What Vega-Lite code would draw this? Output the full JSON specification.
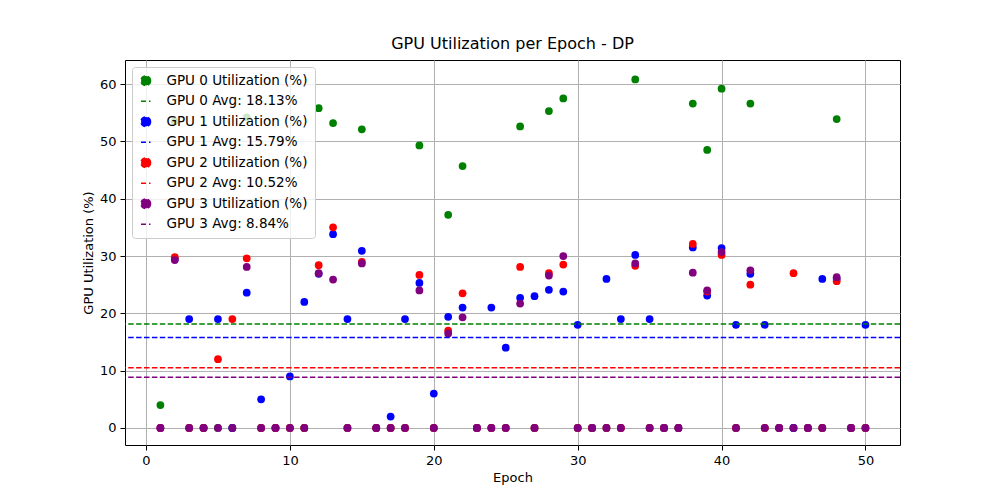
{
  "$schema": "https://vega.github.io/schema/vega-lite/v6.json",
  "autosize": "none",
  "width": 775,
  "height": 385,
  "padding": {"left": 125, "top": 60, "right": 100, "bottom": 55},
  "background": "white",
  "config": {
    "font": "DejaVu Sans",
    "view": {"stroke": "black", "strokeWidth": 1},
    "axis": {"gridColor": "#b0b0b0", "gridOpacity": 1, "domain": false, "tickColor": "black", "tickSize": 5, "labelColor": "black", "titleColor": "black", "labelFontSize": 13, "titleFontSize": 13, "titleFontWeight": "normal", "labelPadding": 4}
  },
  "title": {"text": "GPU Utilization per Epoch - DP", "fontSize": 16, "fontWeight": "normal", "offset": 8},
  "datasets": {
    "util": [
      {"epoch": 1, "g0": 4, "g1": 0, "g2": 0, "g3": 0},
      {"epoch": 2, "g0": 53.5, "g1": 29.5, "g2": 29.8, "g3": 29.3},
      {"epoch": 3, "g0": 0, "g1": 19, "g2": 0, "g3": 0},
      {"epoch": 4, "g0": 0, "g1": 0, "g2": 0, "g3": 0},
      {"epoch": 5, "g0": 0, "g1": 19, "g2": 12, "g3": 0},
      {"epoch": 6, "g0": 0, "g1": 0, "g2": 19, "g3": 0},
      {"epoch": 7, "g0": 54.2, "g1": 23.6, "g2": 29.6, "g3": 28.1},
      {"epoch": 8, "g0": 0, "g1": 5, "g2": 0, "g3": 0},
      {"epoch": 9, "g0": 0, "g1": 0, "g2": 0, "g3": 0},
      {"epoch": 10, "g0": 0, "g1": 9, "g2": 0, "g3": 0},
      {"epoch": 11, "g0": 0, "g1": 22, "g2": 0, "g3": 0},
      {"epoch": 12, "g0": 55.8, "g1": 26.9, "g2": 28.4, "g3": 27},
      {"epoch": 13, "g0": 53.2, "g1": 33.8, "g2": 35, "g3": 25.9},
      {"epoch": 14, "g0": 0, "g1": 19, "g2": 0, "g3": 0},
      {"epoch": 15, "g0": 52.1, "g1": 30.9, "g2": 29, "g3": 28.7},
      {"epoch": 16, "g0": 0, "g1": 0, "g2": 0, "g3": 0},
      {"epoch": 17, "g0": 0, "g1": 2, "g2": 0, "g3": 0},
      {"epoch": 18, "g0": 0, "g1": 19, "g2": 0, "g3": 0},
      {"epoch": 19, "g0": 49.3, "g1": 25.3, "g2": 26.7, "g3": 24},
      {"epoch": 20, "g0": 0, "g1": 6, "g2": 0, "g3": 0},
      {"epoch": 21, "g0": 37.2, "g1": 19.4, "g2": 17, "g3": 16.5},
      {"epoch": 22, "g0": 45.7, "g1": 21, "g2": 23.5, "g3": 19.3},
      {"epoch": 23, "g0": 0, "g1": 0, "g2": 0, "g3": 0},
      {"epoch": 24, "g0": 0, "g1": 21, "g2": 0, "g3": 0},
      {"epoch": 25, "g0": 0, "g1": 14, "g2": 0, "g3": 0},
      {"epoch": 26, "g0": 52.6, "g1": 22.7, "g2": 28.1, "g3": 21.7},
      {"epoch": 27, "g0": 0, "g1": 23, "g2": 0, "g3": 0},
      {"epoch": 28, "g0": 55.3, "g1": 24.1, "g2": 27, "g3": 26.6},
      {"epoch": 29, "g0": 57.5, "g1": 23.8, "g2": 28.5, "g3": 30},
      {"epoch": 30, "g0": 0, "g1": 18, "g2": 0, "g3": 0},
      {"epoch": 31, "g0": 0, "g1": 0, "g2": 0, "g3": 0},
      {"epoch": 32, "g0": 0, "g1": 26, "g2": 0, "g3": 0},
      {"epoch": 33, "g0": 0, "g1": 19, "g2": 0, "g3": 0},
      {"epoch": 34, "g0": 60.8, "g1": 30.2, "g2": 28.3, "g3": 28.7},
      {"epoch": 35, "g0": 0, "g1": 19, "g2": 0, "g3": 0},
      {"epoch": 36, "g0": 0, "g1": 0, "g2": 0, "g3": 0},
      {"epoch": 37, "g0": 0, "g1": 0, "g2": 0, "g3": 0},
      {"epoch": 38, "g0": 56.6, "g1": 31.5, "g2": 32.1, "g3": 27.1},
      {"epoch": 39, "g0": 48.5, "g1": 23.1, "g2": 23.8, "g3": 24},
      {"epoch": 40, "g0": 59.2, "g1": 31.4, "g2": 30.2, "g3": 30.7},
      {"epoch": 41, "g0": 0, "g1": 18, "g2": 0, "g3": 0},
      {"epoch": 42, "g0": 56.6, "g1": 26.9, "g2": 25, "g3": 27.5},
      {"epoch": 43, "g0": 0, "g1": 18, "g2": 0, "g3": 0},
      {"epoch": 44, "g0": 0, "g1": 0, "g2": 0, "g3": 0},
      {"epoch": 45, "g0": 0, "g1": 0, "g2": 27, "g3": 0},
      {"epoch": 46, "g0": 0, "g1": 0, "g2": 0, "g3": 0},
      {"epoch": 47, "g0": 0, "g1": 26, "g2": 0, "g3": 0},
      {"epoch": 48, "g0": 53.9, "g1": 26, "g2": 25.6, "g3": 26.3},
      {"epoch": 49, "g0": 0, "g1": 0, "g2": 0, "g3": 0},
      {"epoch": 50, "g0": 0, "g1": 18, "g2": 0, "g3": 0}
    ],
    "avgs": [
      {"label": "GPU 0 Avg: 18.13%", "avg": 18.13},
      {"label": "GPU 1 Avg: 15.79%", "avg": 15.79},
      {"label": "GPU 2 Avg: 10.52%", "avg": 10.52},
      {"label": "GPU 3 Avg: 8.84%", "avg": 8.84}
    ]
  },
  "layer": [
    {
      "data": {"name": "util"},
      "transform": [
        {"fold": ["g0", "g1", "g2", "g3"], "as": ["gpu", "value"]},
        {"calculate": "'GPU ' + substring(datum.gpu, 1) + ' Utilization (%)'", "as": "label"},
        {"calculate": "toNumber(substring(datum.gpu, 1))", "as": "order"}
      ],
      "mark": {"type": "point", "filled": true, "size": 60, "opacity": 1, "strokeWidth": 0},
      "encoding": {
        "x": {"field": "epoch", "type": "quantitative", "title": "Epoch", "scale": {"domain": [-1.46, 52.4], "nice": false, "zero": false}, "axis": {"values": [0, 10, 20, 30, 40, 50]}},
        "y": {"field": "value", "type": "quantitative", "title": "GPU Utilization (%)", "scale": {"domain": [-2.97, 64.2], "nice": false, "zero": false}, "axis": {"values": [0, 10, 20, 30, 40, 50, 60]}},
        "color": {"field": "label", "type": "nominal", "scale": {"domain": ["GPU 0 Utilization (%)", "GPU 0 Avg: 18.13%", "GPU 1 Utilization (%)", "GPU 1 Avg: 15.79%", "GPU 2 Utilization (%)", "GPU 2 Avg: 10.52%", "GPU 3 Utilization (%)", "GPU 3 Avg: 8.84%"], "range": ["green", "green", "blue", "blue", "red", "red", "purple", "purple"]},
          "legend": {"title": null, "orient": "top-left", "offset": 7, "fillColor": "rgba(255,255,255,0.8)", "strokeColor": "#cccccc", "cornerRadius": 3, "padding": 7, "labelFontSize": 13.5, "labelColor": "black", "labelOffset": 14, "rowPadding": 4.5, "symbolSize": 90, "symbolStrokeWidth": 1.6, "symbolDash": [5, 3]}},
        "stroke": {"field": "label", "type": "nominal", "scale": {"domain": ["GPU 0 Utilization (%)", "GPU 0 Avg: 18.13%", "GPU 1 Utilization (%)", "GPU 1 Avg: 15.79%", "GPU 2 Utilization (%)", "GPU 2 Avg: 10.52%", "GPU 3 Utilization (%)", "GPU 3 Avg: 8.84%"], "range": ["green", "green", "blue", "blue", "red", "red", "purple", "purple"]}},
        "shape": {"field": "label", "type": "nominal", "scale": {"domain": ["GPU 0 Utilization (%)", "GPU 0 Avg: 18.13%", "GPU 1 Utilization (%)", "GPU 1 Avg: 15.79%", "GPU 2 Utilization (%)", "GPU 2 Avg: 10.52%", "GPU 3 Utilization (%)", "GPU 3 Avg: 8.84%"], "range": ["circle", "stroke", "circle", "stroke", "circle", "stroke", "circle", "stroke"]}},
        "order": {"field": "order"}
      }
    },
    {
      "data": {"name": "avgs"},
      "mark": {"type": "rule", "strokeWidth": 1.5, "strokeDash": [5.5, 2.4]},
      "encoding": {
        "y": {"field": "avg", "type": "quantitative"},
        "color": {"field": "label", "type": "nominal", "legend": null},
        "stroke": {"field": "label", "type": "nominal", "legend": null}
      }
    }
  ]
}
